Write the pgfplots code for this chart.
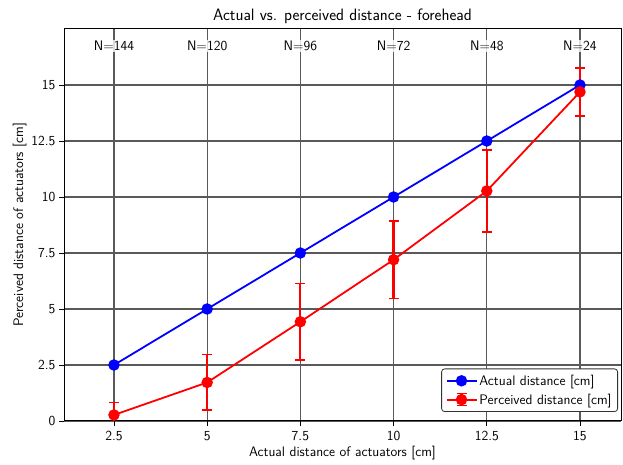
\documentclass[border=0pt]{standalone}
\usepackage{pgfplots}
\pgfplotsset{compat=1.18}
\renewcommand{\familydefault}{\sfdefault}
\newcommand{\fs}{\fontsize{13.8}{16}\selectfont\sffamily}
\newcommand{\ft}{\fontsize{16.5}{19}\selectfont\sffamily}
\begin{document}
\begin{tikzpicture}
\useasboundingbox (-64pt,-44pt) rectangle (559pt,421pt);
\begin{axis}[
  at={(0,0)}, anchor=south west,
  scale only axis, width=557pt, height=392pt,
  xmin=1.16, xmax=16.1, ymin=0, ymax=17.5,
  xtick={2.5,5,7.5,10,12.5,15},
  xticklabels={2.5,5,7.5,10,12.5,15},
  ytick={0,2.5,5,7.5,10,12.5,15},
  yticklabels={0,2.5,5,7.5,10,12.5,15},
  tick align=outside, xtick pos=bottom, ytick pos=left,
  major tick length=5pt,
  tick style={black, line width=0.8pt},
  grid=major,
  major grid style={black!65, line width=1.1pt},
  axis line style={black, line width=1pt},
  title={Actual vs. perceived distance - forehead},
  title style={font=\ft, yshift=-4pt},
  xlabel={Actual distance of actuators [cm]},
  ylabel={Perceived distance of actuators [cm]},
  label style={font=\fs},
  xlabel style={yshift=1pt},
  ylabel style={yshift=-2pt},
  ticklabel style={font=\fs},
  xticklabel style={yshift=-1.5pt},
  /pgf/number format/assume math mode=true,
  legend cell align=left,
  legend style={at={(rel axis cs:0.9946,0.023)}, anchor=south east,
    rounded corners=3pt, draw=black!80, line width=0.8pt, font=\fs, row sep=3pt, inner xsep=4pt, inner ysep=4pt},
]
\addplot[blue, line width=1.8pt, mark=*, mark size=4.8pt,
  legend image code/.code={
    \draw[blue, line width=1.8pt] (0pt,0pt) -- (30pt,0pt);
    \fill[blue] (15pt,0pt) circle (4.8pt);
  }] coordinates {
  (2.5,2.5) (5,5) (7.5,7.5) (10,10) (12.5,12.5) (15,15)
};
\addlegendentry{Actual distance [cm]}
\addplot[red, line width=1.8pt, mark=*, mark size=4.8pt,
  legend image code/.code={
    \draw[red, line width=1.8pt] (0pt,0pt) -- (30pt,0pt);
    \draw[red, line width=2.2pt] (15pt,-6pt) -- (15pt,6pt);
    \draw[red, line width=1.6pt] (10pt,-6pt) -- (20pt,-6pt) (10pt,6pt) -- (20pt,6pt);
    \fill[red] (15pt,0pt) circle (4.8pt);
  },
  error bars/.cd, y dir=both, y explicit,
  error mark options={rotate=90, mark size=5pt, line width=1.6pt, red},
  error bar style={line width=2.2pt, red}]
  coordinates {
  (2.5,0.27) +- (0,0.55)
  (5,1.72) +- (0,1.24)
  (7.5,4.43) +- (0,1.70)
  (10,7.2) +- (0,1.73)
  (12.5,10.27) +- (0,1.83)
  (15,14.69) +- (0,1.08)
};
\addlegendentry{Perceived distance [cm]}
\foreach \xx/\nn in {2.5/144,5/120,7.5/96,10/72,12.5/48,15/24}{
  \edef\temp{\noexpand\node[fill=white, fill opacity=0.8, text opacity=1, inner sep=1.5pt, font=\noexpand\fs] at (axis cs:\xx,16.74) {N=\nn};}
  \temp
}
\end{axis}
\end{tikzpicture}
\end{document}
